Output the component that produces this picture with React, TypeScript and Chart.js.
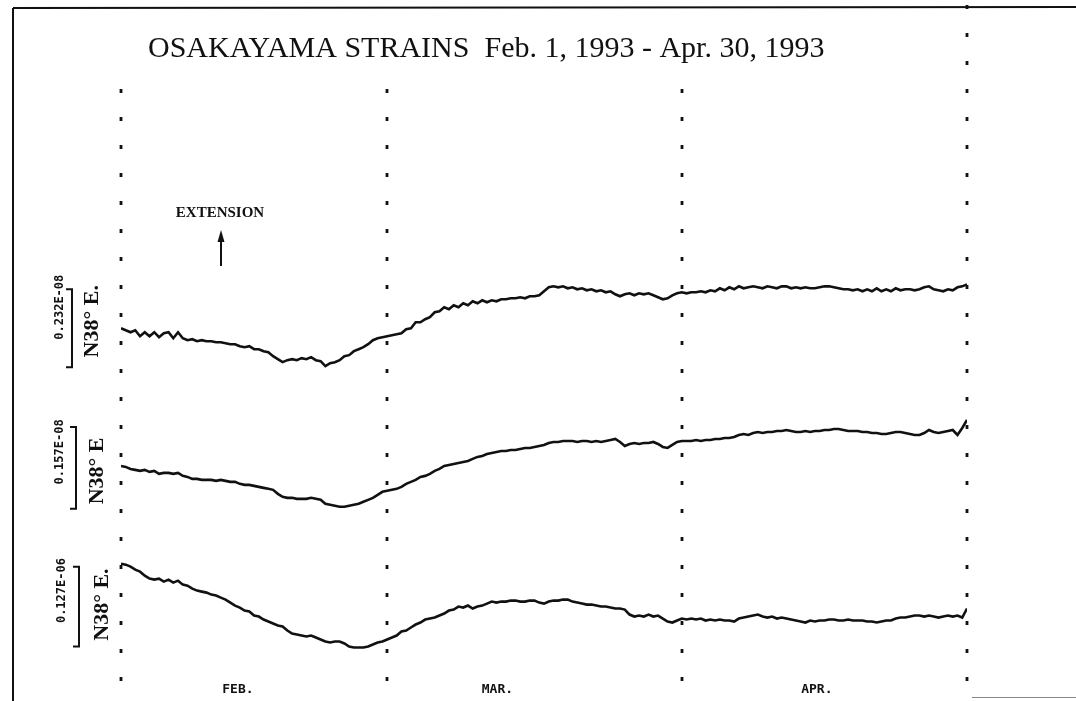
import React, { useEffect, useRef } from "react";
import { Chart, registerables } from "chart.js";

Chart.register(...registerables);

// ---------------- data ----------------
const TITLE = "OSAKAYAMA STRAINS  Feb. 1, 1993 - Apr. 30, 1993";
const MONTH_LABELS = ["FEB.", "MAR.", "APR."];
const MONTH_LABEL_DAYS = [12.3, 39.6, 73.2];
const MONTH_BOUNDARY_DAYS = [0, 28, 59, 89];
const TOTAL_DAYS = 89;
const SAMPLE_STEP_DAYS = 0.5;
const COMPONENT_LABELS = ["N38\u00B0 E.", "N38\u00B0 E", "N38\u00B0 E."];
const SCALE_LABELS = ["0.232E-08", "0.157E-08", "0.127E-06"];
// length of each scale bar, in the same relative units as the trace values
const SCALE_BAR = [78, 82, 80];
const ANNOTATION = "EXTENSION";

// relative strain, half-day samples from Feb. 1 to Apr. 30 (units: scale bar = SCALE_BAR)
const TRACE_1 = [
  39, 37, 35, 37, 31, 35, 31, 35, 30, 34, 35, 29, 35, 29, 27, 28, 26, 27, 26, 26,
  25, 25, 24, 23, 23, 21, 20, 21, 18, 18, 16, 15, 11, 8, 5, 7, 8, 7, 9, 8,
  10, 7, 6, 1, 4, 5, 7, 11, 12, 16, 18, 20, 23, 27, 29, 30, 31,
  32, 33, 34, 38, 39, 45, 45, 48, 50, 55, 56, 60, 58, 62, 60, 64, 62, 66, 64, 67,
  65, 67, 66, 68, 68, 69, 69, 70, 69, 71, 71, 72, 76, 80, 81, 80, 81, 79, 80, 78,
  79, 77, 78, 76, 77, 75, 76, 73, 71, 73, 74, 72, 74, 73, 74, 72, 70, 68, 69, 72,
  74, 75,
  74, 75, 75, 76, 75, 77, 76, 79, 77, 80, 78, 81, 79, 80, 81, 80, 79, 81, 80, 79,
  81, 81, 79, 80, 79, 80, 79, 79, 80, 81, 81, 80, 79, 78, 78, 77, 78, 76, 78, 76,
  79, 76, 78, 76, 79, 77, 78, 78, 77, 78, 80, 81, 78, 77, 76, 78, 77, 80, 81, 83,
];

const TRACE_2 = [
  43, 42, 40, 39, 38, 39, 37, 38, 35, 36, 36, 35, 36, 33, 32, 30, 30, 29, 29, 29,
  28, 29, 28, 27, 27, 25, 24, 24, 23, 22, 21, 20, 19, 15, 12, 11, 11, 10, 10, 10,
  11, 10, 9, 5, 4, 3, 2, 2, 3, 4, 5, 7, 9, 11, 14, 17, 18,
  19, 20, 22, 25, 27, 29, 32, 33, 35, 38, 40, 43, 44, 45, 46, 47, 48, 50, 52, 53,
  55, 56, 57, 58, 58, 59, 59, 60, 61, 61, 62, 63, 64, 66, 67, 67, 68, 68, 68, 67,
  68, 68, 67, 68, 67, 68, 69, 70, 67, 63, 65, 66, 65, 66, 66, 67, 65, 62, 61, 64,
  67, 68,
  68, 68, 69, 68, 69, 69, 70, 70, 71, 71, 72, 74, 75, 74, 76, 77, 76, 77, 77, 78,
  78, 79, 78, 77, 77, 78, 77, 78, 78, 79, 79, 80, 80, 79, 78, 78, 78, 77, 77, 76,
  76, 75, 75, 76, 77, 77, 76, 75, 74, 74, 76, 79, 77, 76, 77, 78, 79, 74, 81, 89,
];

const TRACE_3 = [
  83, 82, 80, 77, 75, 71, 68, 67, 68, 65, 67, 64, 66, 62, 61, 58, 56, 55, 54, 52,
  51, 49, 47, 44, 41, 39, 36, 35, 31, 30, 27, 25, 23, 21, 20, 16, 13, 12, 11, 10,
  11, 9, 7, 5, 4, 5, 5, 3, 0, -1, -1, -1, 0, 2, 4, 5, 7,
  9, 11, 15, 16, 19, 22, 24, 27, 28, 29, 31, 33, 36, 37, 40, 39, 41, 38, 40, 41,
  43, 45, 44, 45, 45, 46, 46, 45, 45, 46, 46, 44, 43, 45, 46, 46, 47, 47, 45, 44,
  43, 42, 42, 41, 40, 40, 39, 38, 38, 37, 32, 30, 31, 30, 32, 30, 31, 28, 25, 24,
  26, 28,
  27, 28, 27, 28, 26, 27, 26, 27, 26, 26, 25, 28, 29, 30, 31, 32, 30, 29, 30, 28,
  29, 28, 27, 26, 25, 24, 26, 25, 26, 26, 27, 27, 26, 26, 27, 26, 26, 26, 25, 25,
  24, 25, 26, 26, 28, 29, 29, 30, 31, 31, 30, 31, 30, 29, 30, 31, 30, 31, 29, 38,
];

const TRACES = [TRACE_1, TRACE_2, TRACE_3];

// ---------------- layout ----------------
const W = 1076;
const H = 701;
const CHART_TOP = 0;
const CHART_BOTTOM = 682;
const TRACE_ZERO_PX = [368, 510, 648];
const BRACKET_X = [72, 76, 79];
const SCALE_LABEL_X = [60, 60, 62];
const SCALE_LABEL_DY = [-21, -16, -16];
const COMP_LABEL_X = [92, 97, 102];
const COMP_LABEL_DY = [-7, 3, -2];
const INK = "#111";

const decorPlugin = {
  id: "decor",
  afterDraw(chart: any) {
    const ctx = chart.ctx as CanvasRenderingContext2D;
    const xs = chart.scales.x;
    ctx.save();
    ctx.strokeStyle = INK;
    ctx.fillStyle = INK;

    // frame
    ctx.lineWidth = 2;
    ctx.beginPath();
    ctx.moveTo(13, 8);
    ctx.lineTo(W, 7);
    ctx.moveTo(13, 8);
    ctx.lineTo(13, H);
    ctx.stroke();
    ctx.strokeStyle = "#888";
    ctx.lineWidth = 1;
    ctx.beginPath();
    ctx.moveTo(972, 697.5);
    ctx.lineTo(W, 697.5);
    ctx.stroke();
    ctx.strokeStyle = INK;

    // month boundaries (dotted)
    ctx.lineWidth = 2.8;
    ctx.setLineDash([4, 24]);
    MONTH_BOUNDARY_DAYS.forEach((d, i) => {
      const x = Math.round(xs.getPixelForValue(d));
      const top = i === MONTH_BOUNDARY_DAYS.length - 1 ? 5 : 89;
      ctx.beginPath();
      ctx.moveTo(x, top);
      ctx.lineTo(x, 697);
      ctx.stroke();
    });
    ctx.setLineDash([]);

    // title
    ctx.font = '30px "Liberation Serif"';
    ctx.textAlign = "left";
    ctx.textBaseline = "alphabetic";
    ctx.fillText(TITLE, 148, 57);

    // extension annotation
    ctx.font = 'bold 15px "Liberation Serif"';
    ctx.textAlign = "center";
    ctx.textBaseline = "middle";
    ctx.fillText(ANNOTATION, 220, 213);
    ctx.lineWidth = 2;
    ctx.beginPath();
    ctx.moveTo(221, 266);
    ctx.lineTo(221, 238);
    ctx.stroke();
    ctx.beginPath();
    ctx.moveTo(221, 230);
    ctx.lineTo(217.5, 242);
    ctx.lineTo(224.5, 242);
    ctx.closePath();
    ctx.fill();

    // scale bars and channel labels
    TRACES.forEach((_, i) => {
      const ys = chart.scales["y" + (i + 1)];
      const y0 = ys.getPixelForValue(0);
      const y1 = ys.getPixelForValue(SCALE_BAR[i]);
      const bx = BRACKET_X[i];
      ctx.lineWidth = 2;
      ctx.beginPath();
      ctx.moveTo(bx - 6, y1);
      ctx.lineTo(bx, y1);
      ctx.lineTo(bx, y0);
      ctx.lineTo(bx - 6, y0);
      ctx.stroke();
      const mid = (y0 + y1) / 2;

      ctx.save();
      ctx.translate(SCALE_LABEL_X[i], mid + SCALE_LABEL_DY[i]);
      ctx.rotate(-Math.PI / 2);
      ctx.font = 'bold 12px "DejaVu Sans Mono"';
      ctx.textAlign = "center";
      ctx.textBaseline = "middle";
      ctx.fillText(SCALE_LABELS[i], 0, 0);
      ctx.restore();

      ctx.save();
      ctx.translate(COMP_LABEL_X[i], mid + COMP_LABEL_DY[i]);
      ctx.rotate(-Math.PI / 2);
      ctx.font = 'bold 22px "Liberation Serif"';
      ctx.textAlign = "center";
      ctx.textBaseline = "middle";
      ctx.fillText(COMPONENT_LABELS[i], 0, 0);
      ctx.restore();
    });

    ctx.restore();
  },
};

export default function App() {
  const canvasRef = useRef<HTMLCanvasElement | null>(null);

  useEffect(() => {
    const canvas = canvasRef.current;
    if (!canvas) return;

    const datasets = TRACES.map((trace, i) => ({
      label: COMPONENT_LABELS[i],
      data: trace.map((v, k) => ({ x: k * SAMPLE_STEP_DAYS, y: v })),
      yAxisID: "y" + (i + 1),
      borderColor: INK,
      borderWidth: 2.6,
      pointRadius: 0,
      tension: 0,
      fill: false,
    }));

    const yScales: any = {};
    TRACE_ZERO_PX.forEach((zero, i) => {
      yScales["y" + (i + 1)] = {
        type: "linear",
        display: false,
        min: zero - CHART_BOTTOM,
        max: zero - CHART_TOP,
      };
    });

    const chart = new Chart(canvas, {
      type: "line",
      data: { datasets },
      options: {
        animation: false,
        responsive: false,
        devicePixelRatio: 1,
        layout: { padding: { left: 121, right: 109, top: 0, bottom: 3 } },
        plugins: {
          legend: { display: false },
          tooltip: { enabled: false },
          title: { display: false },
        },
        scales: {
          x: {
            type: "linear",
            min: 0,
            max: TOTAL_DAYS,
            grid: { display: false, drawTicks: false },
            border: { display: false },
            afterBuildTicks: (axis: any) => {
              axis.ticks = MONTH_LABEL_DAYS.map((v) => ({ value: v }));
            },
            ticks: {
              autoSkip: false,
              maxRotation: 0,
              padding: 1,
              color: INK,
              font: { family: '"DejaVu Sans Mono"', size: 13, weight: "bold" },
              callback: (_v: any, i: number) => MONTH_LABELS[i],
            },
          },
          ...yScales,
        },
      } as any,
      plugins: [decorPlugin],
    });

    return () => chart.destroy();
  }, []);

  return (
    <div
      style={{
        position: "fixed",
        left: 0,
        top: 0,
        width: W,
        height: H,
        background: "#fff",
      }}
    >
      <canvas ref={canvasRef} width={W} height={H} style={{ display: "block" }} />
    </div>
  );
}
